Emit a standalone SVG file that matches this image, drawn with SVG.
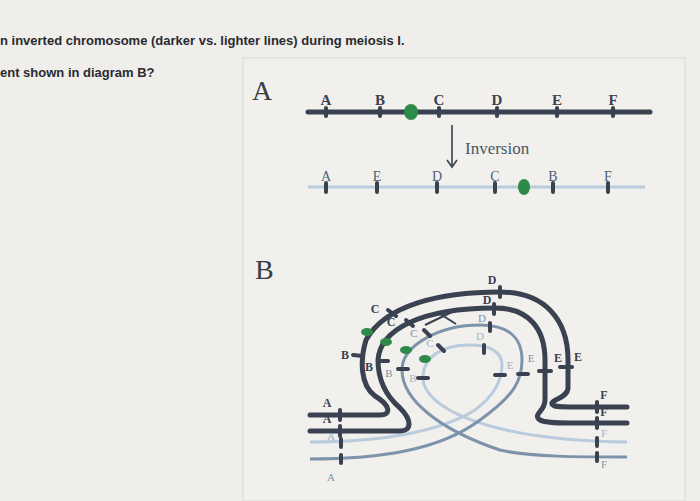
<svg xmlns="http://www.w3.org/2000/svg" width="700" height="501" viewBox="0 0 700 501">
<defs>
<style>
.hdr{font-family:"Liberation Sans",Arial,sans-serif;font-size:13px;font-weight:bold;fill:#2a2a30}
.big{font-family:"Liberation Serif",serif;font-size:28px;fill:#3a3d45}
.lbl{font-family:"Liberation Serif",serif;font-weight:bold;font-size:12px;fill:#3a4150;text-anchor:middle}
.lblm{font-family:"Liberation Serif",serif;font-size:11px;fill:#7d93ab;text-anchor:middle}
.lbll{font-family:"Liberation Serif",serif;font-size:11px;fill:#9fb4c8;text-anchor:middle}
.dk{fill:none;stroke:#3a4150;stroke-width:5;stroke-linecap:round}
.md{fill:none;stroke:#7d93ab;stroke-width:3}
.lt{fill:none;stroke:#b9cbdc;stroke-width:3}
.tk{stroke:#3a4150;stroke-width:4;stroke-linecap:round}
.cen{fill:#2e8a48}
</style>
<marker id="ah" markerWidth="10" markerHeight="12" refX="8" refY="6" orient="auto" markerUnits="userSpaceOnUse"><path d="M1,1 L8,6 L1,11" fill="none" stroke="#3a4150" stroke-width="1.6"/></marker>
</defs>
<rect width="700" height="501" fill="#efeeea"/>
<rect x="243" y="58" width="442" height="443" fill="#f1f0ec" stroke="#d8d8d4"/>
<text class="hdr" x="0" y="45">n inverted chromosome (darker vs. lighter lines) during meiosis I.</text>
<text class="hdr" x="0" y="77">ent shown in diagram B?</text>
<text class="big" x="252" y="100">A</text>
<text class="big" x="255" y="279">B</text>
<g id="chromA">
<line class="dk" x1="308" y1="112" x2="650" y2="112" stroke-width="6"/>
<g class="tk"><line x1="326" y1="108" x2="326" y2="116"/><line x1="380" y1="108" x2="380" y2="116"/><line x1="439" y1="108" x2="439" y2="116"/><line x1="497" y1="108" x2="497" y2="116"/><line x1="557" y1="108" x2="557" y2="116"/><line x1="613" y1="108" x2="613" y2="116"/></g>
<ellipse class="cen" cx="411" cy="112" rx="7" ry="8"/>
<g class="lbl" style="font-size:15px"><text x="326" y="105">A</text><text x="380" y="105">B</text><text x="439" y="105">C</text><text x="497" y="105">D</text><text x="557" y="105">E</text><text x="613" y="105">F</text></g>
</g>
<g id="arrow"><line x1="452" y1="125" x2="452" y2="167" stroke="#3a4150" stroke-width="1.6" marker-end="url(#ah)"/></g>
<text x="465" y="154" style="font-family:'Liberation Serif',serif;font-size:17px;fill:#4a5566">Inversion</text>
<g id="chromInv">
<line class="lt" x1="308" y1="187" x2="645" y2="187"/>
<g class="tk"><line x1="326" y1="183" x2="326" y2="192"/><line x1="377" y1="183" x2="377" y2="192"/><line x1="437" y1="183" x2="437" y2="192"/><line x1="495" y1="183" x2="495" y2="192"/><line x1="553" y1="183" x2="553" y2="192"/><line x1="608" y1="183" x2="608" y2="192"/></g>
<ellipse class="cen" cx="524" cy="187" rx="6" ry="8"/>
<g class="lblm" style="font-size:14px;fill:#4f6178"><text x="326" y="181">A</text><text x="377" y="181">E</text><text x="437" y="181">D</text><text x="495" y="181">C</text><text x="553" y="181">B</text><text x="608" y="181">F</text></g>
</g>
<g id="pairing">
<path class="lt" d="M310,442 C380,442 440,432 475,410 C495,395 502,380 502,365 C502,352 490,345 470,345 C440,345 423,358 423,378 C423,405 480,440 627,442"/>
<path class="md" d="M310,459 C380,459 440,450 480,420 C515,395 522,380 522,360 C522,335 505,325 480,325 C440,325 402,345 402,370 C402,400 440,430 500,450 C530,457 580,457 627,457"/>
<path class="dk" d="M310,431 L400,431 C412,431 412,420 400,408 C385,395 378,380 378,360 C380,330 420,308 495,308 C530,308 545,330 545,360 L545,400 C545,412 532,414 540,420 C545,423 560,423 570,423 L627,423"/>
<path class="dk" d="M310,415 L380,415 C392,415 390,405 375,396 C360,385 360,360 366,340 C385,305 440,292 500,292 C545,292 568,320 568,360 L568,388 C568,398 550,400 552,404 C554,407 560,407 570,407 L627,407"/>
<path d="M425,325 L452,312 M437,312 L456,324" stroke="#3a4150" stroke-width="2" fill="none"/>
<g class="tk" stroke-width="3">
<line x1="340" y1="410" x2="340" y2="420"/><line x1="353" y1="355" x2="363" y2="356"/><line x1="388" y1="310" x2="396" y2="316"/><line x1="500" y1="287" x2="500" y2="297"/><line x1="560" y1="367" x2="572" y2="367"/><line x1="597" y1="402" x2="597" y2="412"/>
<line x1="340" y1="426" x2="340" y2="436"/><line x1="378" y1="361" x2="388" y2="361"/><line x1="406" y1="320" x2="413" y2="326"/><line x1="494" y1="304" x2="494" y2="314"/><line x1="539" y1="371" x2="551" y2="371"/><line x1="597" y1="418" x2="597" y2="428"/>
<line x1="341" y1="455" x2="341" y2="463"/><line x1="398" y1="369" x2="408" y2="369"/><line x1="424" y1="330" x2="430" y2="336"/><line x1="490" y1="323" x2="490" y2="331"/><line x1="518" y1="374" x2="528" y2="374"/><line x1="597" y1="453" x2="597" y2="461"/>
<line x1="341" y1="439" x2="341" y2="447"/><line x1="418" y1="378" x2="428" y2="378"/><line x1="438" y1="345" x2="444" y2="351"/><line x1="484" y1="345" x2="484" y2="353"/><line x1="495" y1="375" x2="505" y2="375"/><line x1="597" y1="438" x2="597" y2="446"/>
</g>
<g class="cen"><ellipse cx="367" cy="332" rx="6" ry="4"/><ellipse cx="386" cy="342" rx="6" ry="4"/><ellipse cx="406" cy="350" rx="6" ry="4"/><ellipse cx="425" cy="359" rx="6" ry="4"/></g>
<g class="lbl"><text x="327" y="407">A</text><text x="345" y="359">B</text><text x="375" y="313">C</text><text x="492" y="284">D</text><text x="578" y="361">E</text><text x="604" y="399">F</text>
<text x="327" y="423">A</text><text x="369" y="371">B</text><text x="391" y="326">C</text><text x="487" y="304">D</text><text x="558" y="362">E</text><text x="604" y="416">F</text></g>
<g class="lblm"><text x="331" y="481">A</text><text x="389" y="377">B</text><text x="414" y="337">C</text><text x="482" y="322">D</text><text x="531" y="362">E</text><text x="604" y="468">F</text></g>
<g class="lbll"><text x="331" y="440">A</text><text x="413" y="382">B</text><text x="430" y="347">C</text><text x="480" y="340">D</text><text x="510" y="369">E</text><text x="604" y="437">F</text></g>
</g>
</svg>
